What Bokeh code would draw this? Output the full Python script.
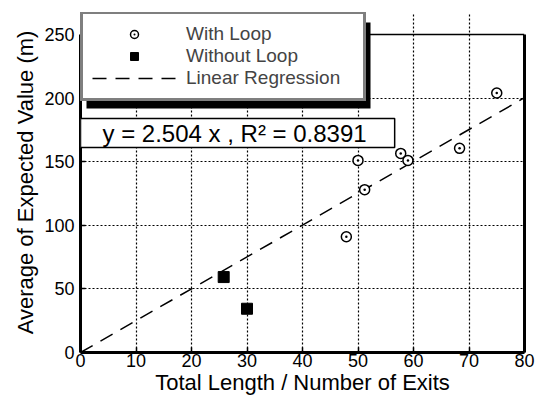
from bokeh.plotting import figure
from bokeh.models import (Legend, LegendItem, Label, Span, BoxAnnotation,
                          FixedTicker, LinearAxis)
from bokeh.embed import file_html
from bokeh.resources import INLINE

# ---- data ----
loop_x = [75, 68.3, 57.7, 59.0, 50.0, 51.2, 47.9]
loop_y = [204, 160.5, 156.5, 151, 151, 128, 91]
noloop_x = [25.8, 30.0]
noloop_y = [59.3, 34.4]
slope = 2.504
r2 = 0.8391
reg_x = [0, 80]
x_ticks = [0, 10, 20, 30, 40, 50, 60, 70, 80]
y_ticks = [0, 50, 100, 150, 200, 250]
y_top = 250

FONT = "Liberation Sans"

p = figure(width=540, height=398, x_range=(0, 80), y_range=(0, 267.3),
           output_backend="svg", toolbar_location=None,
           min_border_left=80, min_border_right=16, min_border_top=12,
           min_border_bottom=46, background_fill_color="white",
           border_fill_color="white")

p.outline_line_color = None

for ax in (p.xaxis[0], p.yaxis[0]):
    ax.axis_line_width = 3
    ax.axis_line_color = "black"
    ax.major_tick_in = 5
    ax.major_tick_out = 0
    ax.major_tick_line_width = 1.5
    ax.minor_tick_line_color = None
    ax.major_label_text_font = FONT
    ax.major_label_text_font_size = "18px"
    ax.major_label_text_color = "black"
    ax.axis_label_text_font = FONT
    ax.axis_label_text_font_size = "22px"
    ax.axis_label_text_font_style = "normal"
    ax.axis_label_text_color = "black"

p.xaxis[0].ticker = FixedTicker(ticks=x_ticks)
p.yaxis[0].ticker = FixedTicker(ticks=y_ticks)
p.yaxis[0].bounds = (0, y_top)
p.xaxis[0].axis_label = "Total Length / Number of Exits"
p.yaxis[0].axis_label = "Average of Expected Value (m)"
p.xaxis[0].major_label_standoff = 1
p.xaxis[0].axis_label_standoff = 0
p.yaxis[0].major_label_standoff = 6
p.yaxis[0].axis_label_standoff = 3

for g in (p.xgrid[0], p.ygrid[0]):
    g.grid_line_color = "black"
    g.grid_line_dash = "2 2"
    g.grid_line_width = 1.2
p.xgrid[0].bounds = (0, y_top)

# right border as an unlabeled axis limited to the data box
right_ax = LinearAxis(ticker=FixedTicker(ticks=[]), bounds=(0, y_top),
                      axis_line_width=3, axis_line_color="black",
                      major_tick_line_color=None, minor_tick_line_color=None,
                      major_label_text_font_size="0px")
p.add_layout(right_ax, "right")
# top border of the data box
p.add_layout(Span(location=y_top, dimension="width", line_color="black", line_width=1.5))

reg_y = [slope * v for v in reg_x]
r_reg = p.line(reg_x, reg_y, line_color="black", line_width=1.5, line_dash="14 9")
r_loop = p.scatter(loop_x, loop_y, marker="circle_dot", size=10, line_color="black",
                   line_width=1.5, fill_color="white")
r_noloop = p.scatter(noloop_x, noloop_y, marker="square", size=11, line_color="black",
                     fill_color="black")

# legend drop shadow (screen units, relative to the frame)
shadow = BoxAnnotation(left=6, right=290, bottom=244, top=330,
                       left_units="screen", right_units="screen",
                       bottom_units="screen", top_units="screen",
                       fill_color="black", fill_alpha=1.0, line_color=None)
p.add_layout(shadow)

legend = Legend(items=[LegendItem(label="With Loop", renderers=[r_loop]),
                       LegendItem(label="Without Loop", renderers=[r_noloop]),
                       LegendItem(label="Linear Regression", renderers=[r_reg])],
                location=(0, 251), orientation="vertical",
                border_line_color="black", border_line_width=3,
                background_fill_color="white", background_fill_alpha=1.0,
                label_text_font=FONT, label_text_font_size="19px",
                glyph_width=84, glyph_height=20, label_height=20,
                label_width=168, label_standoff=10, spacing=0, padding=9,
                margin=0)
p.add_layout(legend, "center")

eq = Label(x=0, y=234, x_units="screen", y_units="screen", anchor="top_left",
           text=f"y = {slope} x , R\u00b2 = {r2}", text_font=FONT,
           text_font_size="24px", text_color="black",
           border_line_color="black", border_line_width=1.5,
           background_fill_color="white", background_fill_alpha=1.0,
           padding=dict(left=22, right=28, top=1, bottom=1))
p.add_layout(eq)

open("out.html", "w").write(file_html(p, INLINE))
